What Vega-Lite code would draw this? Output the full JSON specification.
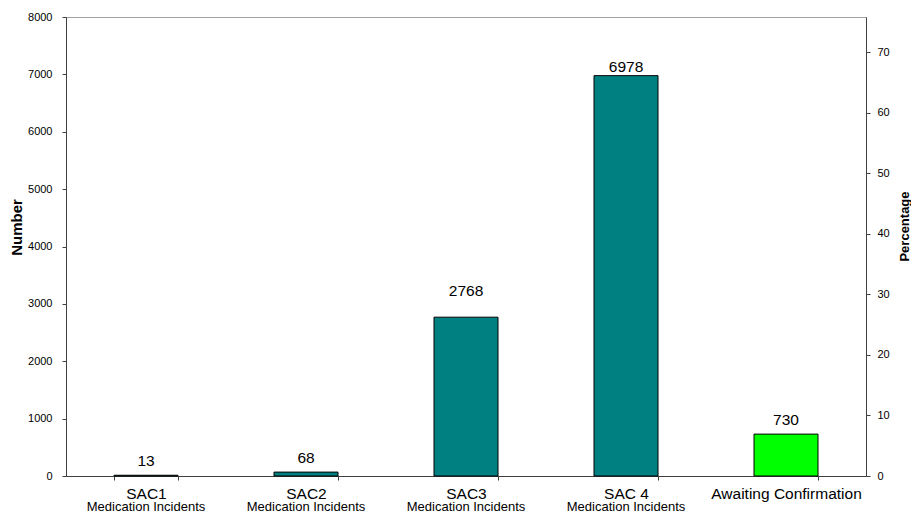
{
  "$schema": "https://vega.github.io/schema/vega-lite/v6.json",
  "width": 800,
  "height": 459,
  "autosize": {"type": "none"},
  "padding": {"left": 66, "top": 17, "right": 45, "bottom": 37},
  "background": "white",
  "config": {
    "font": "Liberation Sans",
    "view": {"stroke": "#a0a0a0", "strokeWidth": 1},
    "axis": {
      "domainColor": "#404040",
      "tickColor": "#404040",
      "labelColor": "#000000",
      "titleColor": "#000000",
      "grid": false,
      "labelFont": "Liberation Sans",
      "titleFont": "Liberation Sans"
    }
  },
  "data": {
    "values": [
      {"Category": "SAC1", "Number": 13, "Percentage": 0.12, "Group": "SAC"},
      {"Category": "SAC2", "Number": 68, "Percentage": 0.64, "Group": "SAC"},
      {"Category": "SAC3", "Number": 2768, "Percentage": 26.22, "Group": "SAC"},
      {"Category": "SAC 4", "Number": 6978, "Percentage": 66.10, "Group": "SAC"},
      {"Category": "Awaiting Confirmation", "Number": 730, "Percentage": 6.91, "Group": "Awaiting"}
    ]
  },
  "layer": [
    {
      "encoding": {
        "x": {
          "field": "Category", "type": "nominal", "sort": null,
          "scale": {"paddingInner": 0.6, "paddingOuter": 0.3},
          "axis": {
            "title": null, "labelAngle": 0, "labelFontSize": 15.5,
            "tickBand": "extent", "tickSize": 4, "labelPadding": 18.5,
            "labelBaseline": "alphabetic", "orient": "bottom"
          }
        },
        "y": {
          "field": "Number", "type": "quantitative",
          "scale": {"domain": [0, 8000], "nice": false},
          "axis": {
            "title": "Number", "values": [0, 1000, 2000, 3000, 4000, 5000, 6000, 7000, 8000],
            "format": "d",
            "labelFontSize": 11, "tickSize": 4, "labelPadding": 10,
            "titleFontSize": 15, "titleFontWeight": "bold",
            "titleAngle": -90, "titleX": -49.5, "titleY": 210,
            "titleAlign": "center", "titleBaseline": "middle"
          }
        }
      },
      "layer": [
        {
          "mark": {"type": "bar", "stroke": "#000000", "strokeWidth": 1},
          "encoding": {
            "color": {
              "field": "Group", "type": "nominal",
              "scale": {"domain": ["SAC", "Awaiting"], "range": ["#008080", "#00FF00"]},
              "legend": null
            }
          }
        },
        {
          "transform": [{"filter": "datum.Number < 1000"}],
          "mark": {"type": "text", "fontSize": 15.5, "baseline": "alphabetic", "dy": -9.5, "color": "#000000"},
          "encoding": {"text": {"field": "Number", "type": "quantitative", "format": "d"}}
        },
        {
          "transform": [{"filter": "datum.Number == 2768"}],
          "mark": {"type": "text", "fontSize": 15.5, "baseline": "alphabetic", "dy": -21, "color": "#000000"},
          "encoding": {"text": {"field": "Number", "type": "quantitative", "format": "d"}}
        },
        {
          "transform": [{"filter": "datum.Number == 6978"}],
          "mark": {"type": "text", "fontSize": 15.5, "baseline": "alphabetic", "dy": -3.5, "color": "#000000"},
          "encoding": {"text": {"field": "Number", "type": "quantitative", "format": "d"}}
        }
      ]
    },
    {
      "mark": {"type": "point", "opacity": 0},
      "encoding": {
        "x": {
          "field": "Category", "type": "nominal", "sort": null,
          "axis": {
            "title": null, "labelAngle": 0, "labelFontSize": 13, "orient": "bottom",
            "ticks": false, "tickSize": 0, "domain": false, "labelPadding": 34,
            "labelBaseline": "alphabetic",
            "labelExpr": "datum.value == 'Awaiting Confirmation' ? '' : 'Medication Incidents'"
          }
        },
        "y": {
          "field": "Percentage", "type": "quantitative",
          "scale": {"domain": [0, 75.78], "nice": false},
          "axis": {
            "title": "Percentage", "orient": "right",
            "values": [0, 10, 20, 30, 40, 50, 60, 70],
            "labelFontSize": 11, "tickSize": 4, "labelPadding": 7,
            "titleFontSize": 13, "titleFontWeight": "bold",
            "titleAngle": -90, "titleX": 38.5, "titleY": 209,
            "titleAlign": "center", "titleBaseline": "middle"
          }
        }
      }
    }
  ],
  "resolve": {"scale": {"y": "independent"}, "axis": {"x": "independent"}}
}
